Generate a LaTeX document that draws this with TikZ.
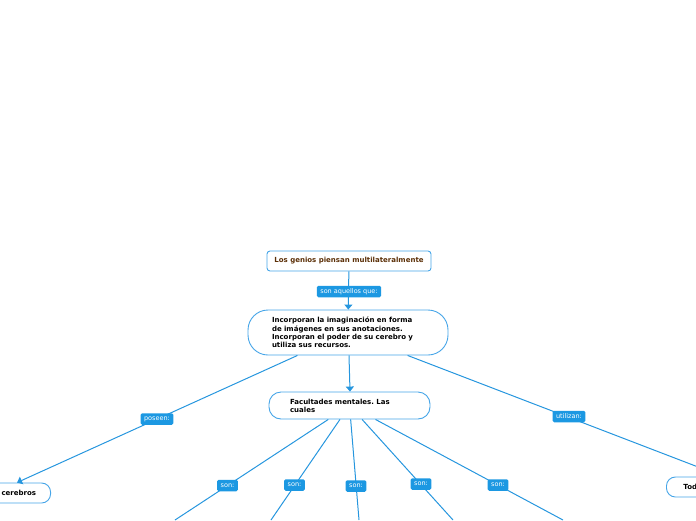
\documentclass[tikz,border=0pt]{standalone}
\usepackage{fontspec}
\setmainfont{DejaVu Sans}
\usetikzlibrary{arrows.meta,calc}
\definecolor{lineblue}{RGB}{38,150,222}
\definecolor{lblblue}{RGB}{28,152,226}
\definecolor{boxblue}{RGB}{70,165,232}
\definecolor{toptext}{RGB}{92,48,8}
\tikzset{
  box/.style={draw=boxblue, fill=white, line width=0.9pt, font=\fontsize{7}{8.2}\selectfont\bfseries, inner ysep=0pt},
  lbl/.style={fill=lblblue, text=white, rounded corners=1.5pt, font=\fontsize{6.5}{7}\selectfont, inner xsep=3.5pt, inner ysep=0pt, minimum height=11.5pt},
  conn/.style={draw=lineblue, line width=1pt},
  arr/.style={conn, -{Triangle[width=8pt,length=5pt]}}
}
\frenchspacing
\begin{document}
\begin{tikzpicture}[x=1pt,y=-1pt]
\useasboundingbox (0,0) rectangle (696,520);
\clip (0,0) rectangle (696,520);
% boxes
\node[box, rounded corners=3pt, minimum width=164pt, minimum height=20pt, text=toptext] (top) at (349,261) {Los genios piensan multilateralmente};
\node[box, rounded corners=20pt, minimum width=200pt, minimum height=45pt, text width=152pt, inner xsep=24pt, align=left] (b2) at (348,332.5)
  {Incorporan la imaginación en forma\\de imágenes en sus anotaciones.\\Incorporan el poder de su cerebro y\\utiliza sus recursos.};
\node[box, rounded corners=12pt, minimum width=161pt, minimum height=27pt, text width=119pt, inner xsep=21pt, align=left] (b3) at (349.5,405.5)
  {Facultades mentales. Las\\cuales};
\node[box, rounded corners=9pt, minimum height=20pt, text width=80pt, inner xsep=14.5pt, align=right, anchor=east] (cer) at (51,493) {cerebros};
\node[box, rounded corners=9pt, minimum height=20pt, text width=60pt, inner xsep=17pt, align=left, anchor=west] (tod) at (666,487) {Tod};
% off-page targets
\coordinate (c1) at (175,520);
\coordinate (c2) at (271,520);
\coordinate (c3) at (359,520);
\coordinate (c4) at (453,520);
\coordinate (c5) at (563,520);
\coordinate (cerT) at ($(cer.north east)+(-34,0)$);
\coordinate (todT) at ($(tod.north west)+(57,0)$);
% connectors
\draw[arr] (top) -- (b2);
\draw[arr] (b2.south -| 349,0) -- (b3.north -| 350,0);
\draw[arr] (b2) -- (cerT);
\draw[arr] (b2) -- (todT);
\draw[conn] (b3) -- (c1);
\draw[conn] (b3) -- (c2);
\draw[conn] (b3) -- (c3);
\draw[conn] (b3) -- (c4);
\draw[conn] (b3) -- (c5);
% labels
\node[lbl] (l0) at (349,291.5) {son aquellos que:};
\node[lbl] (lp) at (157,419) {poseen:};
\node[lbl] (lu) at (569,416.5) {utilizan:};
\node[lbl] (s1) at (227.5,485.5) {son:};
\node[lbl] (s2) at (294.5,485) {son:};
\node[lbl] (s3) at (356,486) {son:};
\node[lbl] (s4) at (421,484) {son:};
\node[lbl] (s5) at (498,485) {son:};
\end{tikzpicture}
\end{document}
